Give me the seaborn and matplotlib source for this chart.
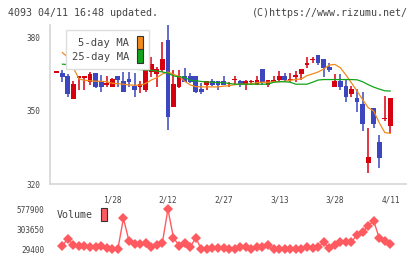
import numpy as np
import pandas as pd
import matplotlib
matplotlib.use('Agg')
import matplotlib.pyplot as plt
from matplotlib.patches import Patch
import seaborn as sns

# daily sessions, oldest first
opens = [365.8, 365.2, 364.1, 354.7, 363.8, 363.8, 361.8, 365.2, 362.0, 360.8,
         359.7, 364.1, 362.0, 362.9, 360.0, 359.7, 358.4, 365.8, 364.8, 366.5,
         378.8, 351.6, 359.7, 364.2, 364.2, 364.2, 358.8, 360.4, 362.0, 362.0,
         362.0, 361.1, 362.7, 362.0, 360.4, 361.8, 360.4, 366.9, 360.4, 361.8,
         362.4, 364.1, 362.7, 364.1, 364.8, 369.0, 370.9, 372.9, 370.9, 367.9,
         359.7, 362.0, 360.0, 356.7, 355.0, 352.9, 328.7, 351.0, 337.0, 346.8,
         343.8]
highs = [365.8, 366.8, 364.9, 362.0, 364.2, 364.0, 365.8, 365.2, 364.5, 364.1,
         363.5, 364.1, 365.8, 365.8, 365.2, 362.0, 367.2, 372.0, 367.9, 378.1,
         385.0, 366.8, 366.5, 367.6, 365.2, 364.2, 361.1, 362.0, 363.0, 362.0,
         364.1, 361.8, 364.1, 362.7, 362.7, 362.7, 364.1, 366.9, 362.7, 364.1,
         366.1, 365.2, 365.2, 366.1, 366.9, 372.0, 372.0, 372.9, 370.9, 369.3,
         364.8, 364.8, 362.7, 360.0, 358.7, 357.7, 342.7, 351.0, 340.0, 355.9,
         355.0]
lows = [365.8, 361.8, 355.6, 354.7, 358.4, 358.4, 360.4, 359.1, 357.7, 359.7,
        359.7, 359.7, 357.7, 359.7, 355.6, 357.0, 357.7, 363.8, 359.7, 365.8,
        342.0, 351.6, 359.1, 361.8, 361.1, 357.0, 356.7, 358.4, 360.0, 358.4,
        360.4, 359.7, 360.4, 359.7, 358.4, 360.4, 360.4, 360.4, 359.7, 361.8,
        361.8, 361.8, 361.8, 361.8, 362.4, 367.6, 369.6, 368.6, 363.8, 365.8,
        359.7, 358.4, 353.7, 355.6, 349.5, 341.8, 324.6, 342.7, 326.7, 345.8,
        340.7]
closes = [365.8, 363.8, 356.7, 360.8, 363.8, 363.8, 364.9, 359.7, 359.7, 360.8,
          362.9, 362.4, 357.7, 361.8, 358.4, 361.0, 366.9, 369.0, 366.9, 371.0,
          347.5, 360.8, 364.2, 361.8, 361.8, 357.7, 357.5, 362.0, 360.4, 360.4,
          360.4, 361.1, 362.7, 360.4, 362.0, 361.8, 362.7, 361.8, 362.7, 362.7,
          364.1, 362.4, 362.7, 364.1, 366.9, 369.0, 370.9, 369.6, 367.6, 366.5,
          362.0, 359.7, 355.6, 358.8, 353.7, 344.5, 330.9, 344.5, 330.7, 346.8,
          355.0]

# moving averages and volume start at the second session
ma5 = [373.8, 371.8, 367.5, 363.0, 362.4, 362.2, 362.0, 362.0, 361.8, 361.2,
       361.0, 360.8, 360.5, 360.4, 360.4, 361.1, 362.5, 363.5, 365.0, 365.8,
       364.8, 364.0, 362.0, 360.5, 359.8, 359.7, 359.7, 359.7, 359.7, 360.0,
       360.2, 360.6, 360.8, 360.8, 361.0, 361.4, 361.6, 361.6, 361.8, 361.8,
       362.0, 362.4, 362.7, 363.0, 364.3, 365.0, 365.8, 367.0, 368.6, 368.9,
       367.5, 364.6, 361.3, 358.0, 354.5, 351.2, 349.8, 345.0, 341.0, 340.7]
ma25 = [369.0, 368.8, 368.6, 368.4, 368.2, 368.0, 367.9, 367.7, 367.5, 367.4,
        367.2, 367.1, 367.0, 366.9, 366.8, 366.6, 366.5, 366.2, 365.8, 365.3,
        364.2, 363.8, 363.6, 362.4, 362.2, 361.9, 361.7, 361.6, 361.5, 361.4,
        361.1, 360.8, 360.8, 360.8, 360.8, 360.8, 360.8, 360.8, 361.6, 361.8,
        361.8, 361.6, 360.8, 360.8, 360.8, 361.6, 362.5, 362.7, 362.7, 362.7,
        362.7, 362.7, 362.7, 362.6, 361.8, 360.6, 359.6, 358.8, 358.1, 358.0]
volume = [78800, 170600, 88400, 78800, 78800, 56800, 65100, 78800, 43100, 29400,
          33500, 454500, 143200, 102100, 102100, 111700, 56800, 88400, 119900, 577900,
          188500, 78800, 111700, 56800, 188500, 29400, 33500, 43100, 43100, 43100,
          29400, 29400, 56800, 56800, 39000, 56800, 56800, 88400, 29400, 40000,
          40000, 40000, 40000, 29400, 56800, 45000, 56800, 125400, 45000, 88400,
          125400, 125400, 133600, 225500, 262500, 353000, 417400, 180200, 143200, 98000]

date_labels = ['1/28', '2/12', '2/27', '3/13', '3/28', '4/11']
date_sessions = [10, 20, 30, 40, 50, 60]
price_ticks = [320, 350, 380]
vol_ticks = [29400, 303650, 577900]

RED = '#d7000f'
BLUE = '#3c46bf'
ORANGE = '#f08a1a'
GREEN = '#12a51a'
VOLC = '#ff5a60'
GRID = '#d6d6d6'
TXT = '#444444'

sns.set_style('white')
plt.rcParams['font.family'] = ['DejaVu Sans Mono']

candles = pd.DataFrame({'open': opens, 'high': highs, 'low': lows, 'close': closes})
candles['session'] = np.arange(len(candles))
lines = pd.DataFrame({'session': np.arange(1, len(candles)), 'ma5': ma5,
                      'ma25': ma25, 'volume': volume})

fig = plt.figure(figsize=(4.2, 2.59), dpi=100)
ax = fig.add_axes([50 / 420, 1 - 184 / 259, 356 / 420, 159 / 259])
axv = fig.add_axes([50 / 420, 1 - 253 / 259, 356 / 420, 49 / 259])

# candlesticks
up = candles['close'] >= candles['open']
colors = np.where(up, RED, BLUE)
ax.vlines(candles['session'], candles['low'], candles['high'], colors=colors, lw=1.1, zorder=2)
body = (candles['close'] - candles['open']).abs().clip(lower=0.6)
mid = (candles['close'] + candles['open']) / 2
ax.bar(candles['session'], body, bottom=mid - body / 2, width=0.85, color=colors,
       linewidth=0, zorder=3)

sns.lineplot(data=lines, x='session', y='ma5', color=ORANGE, lw=0.9, estimator=None,
             ax=ax, zorder=4)
sns.lineplot(data=lines, x='session', y='ma25', color=GREEN, lw=0.9, estimator=None,
             ax=ax, zorder=4)

ax.set_xlim(-1.2, 62.8)
ax.set_ylim(320, 385)
ax.set_xlabel('')
ax.set_ylabel('')
for s in ['top', 'right']:
    ax.spines[s].set_visible(False)
for s in ['left', 'bottom']:
    ax.spines[s].set_color(GRID)
    ax.spines[s].set_linewidth(1.2)
ax.set_yticks(price_ticks)
ax.set_yticklabels([str(t) for t in price_ticks])
ax.set_xticks(date_sessions)
ax.set_xticklabels(date_labels)
ax.set_xticks(np.linspace(-1.2, 62.8, 12), minor=True)
ax.tick_params(axis='y', direction='inout', length=5, width=1, color=GRID,
               labelsize=5.6, labelcolor=TXT, pad=4.5)
ax.tick_params(axis='x', which='major', length=0, labelsize=5.6, labelcolor=TXT, pad=8.5)
ax.tick_params(axis='x', which='minor', direction='out', length=4.3, width=1, color=GRID)

handles = [Patch(facecolor=ORANGE, edgecolor='#333333', lw=0.8),
           Patch(facecolor=GREEN, edgecolor='#333333', lw=0.8)]
leg = ax.legend(handles, ['5-day MA', '25-day MA'], loc='upper left',
                bbox_to_anchor=(0.045, 0.969), borderaxespad=0, fancybox=False,
                framealpha=1, edgecolor='#dddddd', fontsize=7.6, markerfirst=False,
                handlelength=0.58, handleheight=1.55, labelspacing=0.05,
                handletextpad=0.75, borderpad=0.55)
leg.get_frame().set_linewidth(1.0)
for t in leg.get_texts():
    t.set_color(TXT)

# volume panel
sns.lineplot(data=lines, x='session', y='volume', color=VOLC, lw=1.0, marker='D',
             markersize=5, markeredgewidth=0, estimator=None, ax=axv)
vmin, vmax = min(volume), max(volume)
span = vmax - vmin
axv.set_xlim(-1.2, 62.8)
axv.set_ylim(vmin - 0.0925 * span, vmax + 0.1325 * span)
axv.set_xlabel('')
axv.set_ylabel('')
for s in axv.spines.values():
    s.set_visible(False)
axv.set_xticks([])
axv.set_yticks(vol_ticks)
axv.set_yticklabels([str(t) for t in vol_ticks])
axv.tick_params(axis='y', length=0, labelsize=5.6, labelcolor=TXT, pad=4.2)
vleg = axv.legend([Patch(facecolor=VOLC, edgecolor='#333333', lw=0.8)], ['Volume'],
                  loc='upper left', bbox_to_anchor=(0.01, 0.98), borderaxespad=0,
                  frameon=False, fontsize=7.2, markerfirst=False, handlelength=0.6,
                  handleheight=1.55, handletextpad=0.8, borderpad=0.3)
for t in vleg.get_texts():
    t.set_color(TXT)

fig.text(8 / 420, 1 - 12.5 / 259, '4093 04/11 16:48 updated.', ha='left', va='center',
         fontsize=7.2, color=TXT)
fig.text(408 / 420, 1 - 12.5 / 259, '(C)https://www.rizumu.net/', ha='right',
         va='center', fontsize=7.2, color=TXT)

fig.savefig('out.png', dpi=100)
